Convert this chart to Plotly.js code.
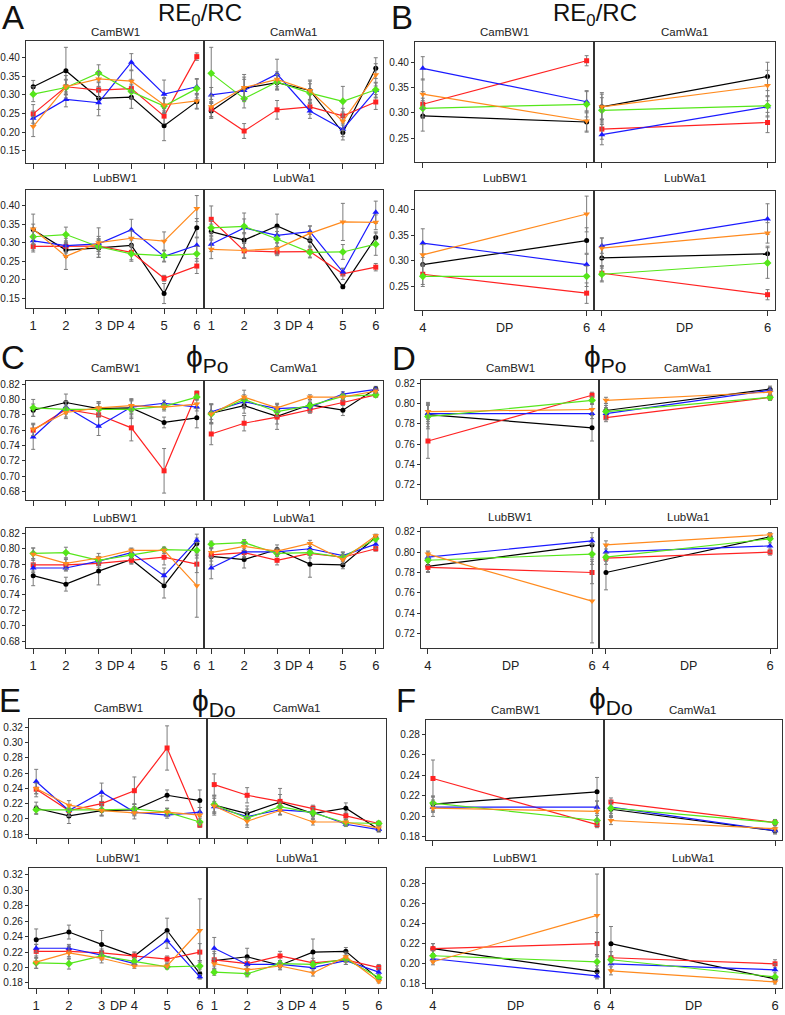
<!DOCTYPE html>
<html><head><meta charset="utf-8">
<script src="https://cdn.plot.ly/plotly-3.0.1.min.js"></script>
<style>html,body{margin:0;padding:0;background:#fff}#chart{width:785px;height:1015px}</style>
</head><body><div id="chart"></div>
<script>
// Development point (DP) axis and the two-point subset used in panels B, D, F
const dp = [1, 2, 3, 4, 5, 6];
const dpPair = [4, 6];
const sites = ['CamBW1', 'CamWa1', 'LubBW1', 'LubWa1'];
const seriesKeys = ['blk', 'red', 'blu', 'grn', 'org'];

// RE0/RC means per site and series
const RE_CamBW1 = {
  blk: [0.322, 0.365, 0.291, 0.294, 0.217, 0.282],
  red: [0.249, 0.322, 0.313, 0.317, 0.243, 0.403],
  blu: [0.237, 0.288, 0.279, 0.388, 0.302, 0.322],
  grn: [0.302, 0.320, 0.359, 0.309, 0.270, 0.317],
  org: [0.215, 0.322, 0.343, 0.337, 0.273, 0.284]
};
const RE_CamWa1 = {
  blk: [0.257, 0.318, 0.333, 0.312, 0.199, 0.372],
  red: [0.262, 0.203, 0.260, 0.268, 0.244, 0.281],
  blu: [0.300, 0.312, 0.356, 0.257, 0.208, 0.312],
  grn: [0.358, 0.290, 0.335, 0.305, 0.283, 0.314],
  org: [0.268, 0.320, 0.342, 0.312, 0.229, 0.354]
};
const RE_LubBW1 = {
  blk: [0.335, 0.280, 0.286, 0.293, 0.163, 0.340],
  red: [0.290, 0.290, 0.291, 0.274, 0.204, 0.237],
  blu: [0.305, 0.292, 0.297, 0.335, 0.263, 0.293],
  grn: [0.316, 0.322, 0.289, 0.270, 0.265, 0.270],
  org: [0.337, 0.263, 0.300, 0.312, 0.304, 0.392]
};
const RE_LubWa1 = {
  blk: [0.330, 0.307, 0.345, 0.306, 0.181, 0.314],
  red: [0.363, 0.278, 0.275, 0.276, 0.216, 0.234],
  blu: [0.296, 0.340, 0.320, 0.330, 0.221, 0.382],
  grn: [0.340, 0.344, 0.310, 0.274, 0.275, 0.296],
  org: [0.282, 0.279, 0.284, 0.325, 0.356, 0.355]
};
// RE0/RC error bars
const RE_CamBW1_err = {
  blk: [0.017, 0.063, 0.030, 0.030, 0.040, 0.020],
  red: [0.025, 0.020, 0.020, 0.025, 0.020, 0.010],
  blu: [0.020, 0.020, 0.035, 0.023, 0.038, 0.022],
  grn: [0.020, 0.020, 0.022, 0.020, 0.020, 0.025],
  org: [0.027, 0.030, 0.020, 0.030, 0.020, 0.020]
};
const RE_CamWa1_err = {
  blk: [0.020, 0.030, 0.020, 0.025, 0.020, 0.028],
  red: [0.020, 0.020, 0.025, 0.020, 0.020, 0.020],
  blu: [0.020, 0.030, 0.040, 0.020, 0.020, 0.020],
  grn: [0.070, 0.025, 0.020, 0.025, 0.040, 0.020],
  org: [0.030, 0.035, 0.020, 0.028, 0.025, 0.030]
};
const RE_LubBW1_err = {
  blk: [0.015, 0.020, 0.025, 0.020, 0.027, 0.025],
  red: [0.015, 0.015, 0.015, 0.020, 0.008, 0.020],
  blu: [0.025, 0.020, 0.020, 0.028, 0.015, 0.020],
  grn: [0.020, 0.020, 0.020, 0.020, 0.015, 0.020],
  org: [0.040, 0.035, 0.040, 0.020, 0.025, 0.035]
};
const RE_LubWa1_err = {
  blk: [0.020, 0.020, 0.032, 0.020, 0.005, 0.015],
  red: [0.036, 0.020, 0.010, 0.015, 0.015, 0.010],
  blu: [0.020, 0.040, 0.020, 0.015, 0.010, 0.030],
  grn: [0.020, 0.020, 0.020, 0.015, 0.020, 0.030],
  org: [0.025, 0.020, 0.015, 0.020, 0.050, 0.020]
};

// phi_Po means
const PO_CamBW1 = {
  blk: [0.786, 0.796, 0.788, 0.789, 0.770, 0.776],
  red: [0.760, 0.787, 0.780, 0.763, 0.707, 0.808],
  blu: [0.751, 0.790, 0.765, 0.790, 0.795, 0.790],
  grn: [0.789, 0.787, 0.787, 0.787, 0.791, 0.803],
  org: [0.761, 0.783, 0.789, 0.792, 0.790, 0.794]
};
const PO_CamWa1 = {
  blk: [0.782, 0.792, 0.778, 0.793, 0.786, 0.814],
  red: [0.755, 0.769, 0.777, 0.786, 0.796, 0.806],
  blu: [0.784, 0.797, 0.788, 0.790, 0.807, 0.813],
  grn: [0.781, 0.800, 0.784, 0.792, 0.804, 0.806],
  org: [0.781, 0.803, 0.789, 0.803, 0.803, 0.811]
};
const PO_LubBW1 = {
  blk: [0.765, 0.754, 0.771, 0.786, 0.752, 0.807],
  red: [0.779, 0.779, 0.781, 0.785, 0.789, 0.780],
  blu: [0.775, 0.775, 0.784, 0.795, 0.765, 0.811],
  grn: [0.794, 0.795, 0.785, 0.792, 0.799, 0.798],
  org: [0.793, 0.781, 0.788, 0.798, 0.798, 0.752]
};
const PO_LubWa1 = {
  blk: [0.790, 0.786, 0.799, 0.780, 0.779, 0.815],
  red: [0.792, 0.795, 0.785, 0.794, 0.789, 0.800],
  blu: [0.775, 0.796, 0.796, 0.800, 0.791, 0.806],
  grn: [0.806, 0.808, 0.794, 0.795, 0.789, 0.813],
  org: [0.795, 0.803, 0.797, 0.807, 0.786, 0.817]
};
const PO_CamBW1_err = {
  blk: [0.008, 0.011, 0.009, 0.012, 0.007, 0.013],
  red: [0.008, 0.010, 0.015, 0.017, 0.029, 0.003],
  blu: [0.016, 0.008, 0.012, 0.008, 0.004, 0.005],
  grn: [0.011, 0.006, 0.008, 0.012, 0.004, 0.004],
  org: [0.008, 0.008, 0.008, 0.008, 0.005, 0.006]
};
const PO_CamWa1_err = {
  blk: [0.012, 0.010, 0.010, 0.005, 0.007, 0.003],
  red: [0.014, 0.010, 0.016, 0.004, 0.004, 0.003],
  blu: [0.010, 0.006, 0.006, 0.006, 0.003, 0.003],
  grn: [0.013, 0.012, 0.006, 0.008, 0.003, 0.003],
  org: [0.012, 0.003, 0.006, 0.003, 0.005, 0.003]
};
const PO_LubBW1_err = {
  blk: [0.013, 0.009, 0.018, 0.005, 0.016, 0.012],
  red: [0.008, 0.007, 0.005, 0.005, 0.010, 0.011],
  blu: [0.006, 0.004, 0.006, 0.005, 0.010, 0.003],
  grn: [0.007, 0.007, 0.005, 0.005, 0.003, 0.010],
  org: [0.008, 0.007, 0.006, 0.003, 0.004, 0.041]
};
const PO_LubWa1_err = {
  blk: [0.011, 0.011, 0.006, 0.017, 0.005, 0.003],
  red: [0.008, 0.005, 0.006, 0.006, 0.006, 0.003],
  blu: [0.014, 0.008, 0.004, 0.006, 0.005, 0.006],
  grn: [0.004, 0.004, 0.004, 0.004, 0.004, 0.004],
  org: [0.006, 0.005, 0.004, 0.004, 0.006, 0.002]
};

// phi_Do means
const DO_CamBW1 = {
  blk: [0.214, 0.204, 0.211, 0.212, 0.231, 0.224],
  red: [0.239, 0.211, 0.220, 0.237, 0.293, 0.192],
  blu: [0.249, 0.211, 0.235, 0.209, 0.205, 0.209],
  grn: [0.212, 0.212, 0.212, 0.213, 0.209, 0.196],
  org: [0.240, 0.218, 0.211, 0.208, 0.209, 0.205]
};
const DO_CamWa1 = {
  blk: [0.218, 0.207, 0.222, 0.207, 0.214, 0.186],
  red: [0.245, 0.231, 0.223, 0.214, 0.204, 0.194],
  blu: [0.216, 0.203, 0.212, 0.209, 0.193, 0.186],
  grn: [0.219, 0.201, 0.216, 0.208, 0.195, 0.194],
  org: [0.217, 0.197, 0.211, 0.196, 0.196, 0.188]
};
const DO_LubBW1 = {
  blk: [0.236, 0.246, 0.230, 0.215, 0.248, 0.192],
  red: [0.221, 0.221, 0.219, 0.215, 0.211, 0.220],
  blu: [0.225, 0.225, 0.216, 0.205, 0.235, 0.188],
  grn: [0.206, 0.205, 0.215, 0.208, 0.201, 0.202],
  org: [0.207, 0.219, 0.212, 0.202, 0.202, 0.248]
};
const DO_LubWa1 = {
  blk: [0.209, 0.214, 0.203, 0.220, 0.221, 0.185],
  red: [0.210, 0.205, 0.215, 0.206, 0.210, 0.200],
  blu: [0.225, 0.204, 0.204, 0.200, 0.209, 0.194],
  grn: [0.194, 0.192, 0.205, 0.204, 0.211, 0.187],
  org: [0.205, 0.197, 0.202, 0.193, 0.214, 0.182]
};
const DO_CamBW1_err = {
  blk: [0.008, 0.010, 0.007, 0.007, 0.007, 0.014],
  red: [0.010, 0.008, 0.010, 0.018, 0.029, 0.003],
  blu: [0.016, 0.007, 0.012, 0.005, 0.004, 0.006],
  grn: [0.005, 0.005, 0.008, 0.007, 0.005, 0.005],
  org: [0.007, 0.006, 0.006, 0.008, 0.005, 0.010]
};
const DO_CamWa1_err = {
  blk: [0.013, 0.010, 0.010, 0.008, 0.007, 0.003],
  red: [0.014, 0.010, 0.017, 0.004, 0.005, 0.003],
  blu: [0.007, 0.006, 0.006, 0.006, 0.003, 0.003],
  grn: [0.010, 0.012, 0.006, 0.007, 0.004, 0.003],
  org: [0.010, 0.005, 0.006, 0.004, 0.004, 0.003]
};
const DO_LubBW1_err = {
  blk: [0.014, 0.009, 0.018, 0.005, 0.016, 0.006],
  red: [0.009, 0.007, 0.005, 0.005, 0.004, 0.011],
  blu: [0.005, 0.005, 0.006, 0.004, 0.010, 0.003],
  grn: [0.007, 0.007, 0.005, 0.005, 0.003, 0.007],
  org: [0.008, 0.008, 0.006, 0.003, 0.003, 0.041]
};
const DO_LubWa1_err = {
  blk: [0.012, 0.011, 0.006, 0.017, 0.005, 0.003],
  red: [0.008, 0.006, 0.006, 0.006, 0.006, 0.004],
  blu: [0.014, 0.008, 0.004, 0.006, 0.005, 0.006],
  grn: [0.004, 0.004, 0.004, 0.004, 0.004, 0.004],
  org: [0.006, 0.005, 0.004, 0.004, 0.006, 0.002]
};

// Tick values for each metric
const ticksRE = [0.15, 0.20, 0.25, 0.30, 0.35, 0.40];
const ticksREpair = [0.25, 0.30, 0.35, 0.40];
const ticksPO = [0.68, 0.70, 0.72, 0.74, 0.76, 0.78, 0.80, 0.82];
const ticksPOpair = [0.72, 0.74, 0.76, 0.78, 0.80, 0.82];
const ticksDO = [0.18, 0.20, 0.22, 0.24, 0.26, 0.28, 0.30, 0.32];
const ticksDOpair = [0.18, 0.20, 0.22, 0.24, 0.26, 0.28];

const RE = {CamBW1: RE_CamBW1, CamWa1: RE_CamWa1, LubBW1: RE_LubBW1, LubWa1: RE_LubWa1};
const RE_err = {CamBW1: RE_CamBW1_err, CamWa1: RE_CamWa1_err, LubBW1: RE_LubBW1_err, LubWa1: RE_LubWa1_err};
const PO = {CamBW1: PO_CamBW1, CamWa1: PO_CamWa1, LubBW1: PO_LubBW1, LubWa1: PO_LubWa1};
const PO_err = {CamBW1: PO_CamBW1_err, CamWa1: PO_CamWa1_err, LubBW1: PO_LubBW1_err, LubWa1: PO_LubWa1_err};
const DO = {CamBW1: DO_CamBW1, CamWa1: DO_CamWa1, LubBW1: DO_LubBW1, LubWa1: DO_LubWa1};
const DO_err = {CamBW1: DO_CamBW1_err, CamWa1: DO_CamWa1_err, LubBW1: DO_LubBW1_err, LubWa1: DO_LubWa1_err};

// ---- drawing ----
const W = 785, H = 1015;
const FONT = 'Liberation Sans, Arial, sans-serif';
const style = {
  blk: {color: '#000000', symbol: 'circle', size: 5},
  red: {color: '#ff2222', symbol: 'square', size: 5},
  blu: {color: '#1a1aff', symbol: 'triangle-up', size: 6},
  grn: {color: '#55e61a', symbol: 'diamond', size: 6},
  org: {color: '#ff8a1e', symbol: 'triangle-down', size: 6}
};

const PHI = '\u03D5';
const panels = [
  {letter: 'A', title: 'RE<sub>0</sub>/RC', tsize: 24, vals: RE, errs: RE_err, xs: dp, xr: [0.78, 6.22],
   x0: 26, xm: 204, x1: 383, rows: [[41, 163], [190, 308]], yr: [[0.117, 0.445], [0.124, 0.442]],
   yt: ticksRE, lx: 13, ly: 17, tx: 200, ty: 14, sub: [32, 178]},
  {letter: 'B', title: 'RE<sub>0</sub>/RC', tsize: 24, vals: RE, errs: RE_err, xs: dpPair, xr: [3.905, 6.09],
   x0: 415, xm: 594, x1: 775, rows: [[42, 162], [191, 310]], yr: [[0.203, 0.440], [0.204, 0.437]],
   yt: ticksREpair, lx: 402, ly: 17, tx: 595, ty: 14, sub: [32, 178]},
  {letter: 'C', title: PHI + '<sub>Po</sub>', tsize: 30, vals: PO, errs: PO_err, xs: dp, xr: [0.78, 6.22],
   x0: 26, xm: 204, x1: 383, rows: [[381, 500], [528, 648]], yr: [[0.669, 0.824], [0.671, 0.827]],
   yt: ticksPO, lx: 13, ly: 357, tx: 207, ty: 358, sub: [368, 518]},
  {letter: 'D', title: PHI + '<sub>Po</sub>', tsize: 30, vals: PO, errs: PO_err, xs: dpPair, xr: [3.915, 6.085],
   x0: 421, xm: 599, x1: 777, rows: [[380, 499], [528, 648]], yr: [[0.706, 0.823], [0.706, 0.8236]],
   yt: ticksPOpair, lx: 404, ly: 358, tx: 605, ty: 358, sub: [368, 517]},
  {letter: 'E', title: PHI + '<sub>Do</sub>', tsize: 30, vals: DO, errs: DO_err, xs: dp, xr: [0.78, 6.22],
   x0: 29, xm: 207, x1: 386, rows: [[719, 838], [868, 988]], yr: [[0.175, 0.331], [0.1735, 0.329]],
   yt: ticksDO, lx: 10, ly: 700, tx: 214, ty: 702, sub: [708, 858]},
  {letter: 'F', title: PHI + '<sub>Do</sub>', tsize: 30, vals: DO, errs: DO_err, xs: dpPair, xr: [3.915, 6.085],
   x0: 426, xm: 604, x1: 782, rows: [[720, 840], [868, 988]], yr: [[0.177, 0.294], [0.176, 0.295]],
   yt: ticksDOpair, lx: 406, ly: 700, tx: 611, ty: 700, sub: [710, 858]}
];

const traces = [];
const layout = {
  width: W, height: H, margin: {l: 0, r: 0, t: 0, b: 0},
  paper_bgcolor: '#ffffff', plot_bgcolor: '#ffffff',
  showlegend: false, font: {family: FONT, color: '#222'},
  annotations: []
};
const px = v => v / W;
const py = v => 1 - v / H;

let k = 0;
panels.forEach(p => {
  // panel letter and metric title
  layout.annotations.push({text: p.letter, x: px(p.lx), y: py(p.ly), xref: 'paper', yref: 'paper',
    showarrow: false, xanchor: 'center', yanchor: 'middle', font: {size: 33, family: FONT, color: '#111'}});
  layout.annotations.push({text: p.title, x: px(p.tx), y: py(p.ty), xref: 'paper', yref: 'paper',
    showarrow: false, xanchor: 'center', yanchor: 'middle', font: {size: p.tsize, family: FONT, color: '#111'}});

  sites.forEach((site, si) => {
    k += 1;
    const r = si < 2 ? 0 : 1;
    const c = si % 2;
    const xa = k === 1 ? 'xaxis' : 'xaxis' + k;
    const ya = k === 1 ? 'yaxis' : 'yaxis' + k;
    const xr = k === 1 ? 'x' : 'x' + k;
    const yr = k === 1 ? 'y' : 'y' + k;
    const left = c === 0 ? p.x0 : p.xm;
    const right = c === 0 ? p.xm : p.x1;
    const [top, bot] = p.rows[r];

    layout[xa] = {
      domain: [px(left), px(right)], anchor: yr, range: p.xr,
      tickmode: 'array', tickvals: p.xs, ticktext: p.xs.map(String),
      ticks: 'outside', ticklen: 5, tickwidth: 1, tickcolor: '#333',
      showticklabels: r === 1, tickfont: {size: 13, family: FONT, color: '#222'},
      showline: true, mirror: true, linecolor: '#333', linewidth: 1.2,
      showgrid: false, zeroline: false, fixedrange: true
    };
    layout[ya] = {
      domain: [py(bot), py(top)], anchor: xr, range: p.yr[r],
      tickmode: 'array', tickvals: p.yt, ticktext: p.yt.map(v => v.toFixed(2)),
      ticks: c === 0 ? 'outside' : '', ticklen: 3, tickwidth: 1, tickcolor: '#333',
      showticklabels: c === 0, tickfont: {size: 10, family: FONT, color: '#222'},
      showline: true, mirror: true, linecolor: '#333', linewidth: 1.2,
      showgrid: false, zeroline: false, fixedrange: true
    };

    // subplot caption
    layout.annotations.push({text: site, x: px((left + right) / 2), y: py(p.sub[r]), xref: 'paper', yref: 'paper',
      showarrow: false, xanchor: 'center', yanchor: 'middle', font: {size: 11.5, family: FONT, color: '#222'}});
    // DP label under bottom subplots
    if (r === 1) {
      const mid = p.xs.length === 6 ? 3.5 : 5;
      layout.annotations.push({text: 'DP', x: mid, y: py(bot + 18), xref: xr, yref: 'paper',
        showarrow: false, xanchor: 'center', yanchor: 'middle', font: {size: 12.5, family: FONT, color: '#222'}});
    }

    seriesKeys.forEach(s => {
      const idx = p.xs.map(x => dp.indexOf(x));
      const st = style[s];
      traces.push({
        type: 'scatter', mode: 'lines+markers', xaxis: xr, yaxis: yr,
        x: p.xs, y: idx.map(i => p.vals[site][s][i]),
        error_y: {type: 'data', array: idx.map(i => p.errs[site][s][i]), visible: true,
          color: '#7c7c7c', thickness: 1, width: 2},
        line: {color: st.color, width: 1.2},
        marker: {color: st.color, symbol: st.symbol, size: st.size},
        hoverinfo: 'skip', cliponaxis: true
      });
    });
  });
});

Plotly.newPlot('chart', traces, layout, {staticPlot: true, displayModeBar: false});
</script>
</body></html>
